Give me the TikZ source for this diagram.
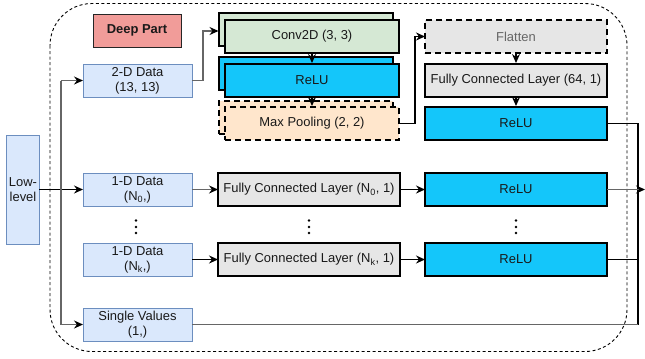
\documentclass[tikz,border=0pt]{standalone}
\usepackage{fontspec}
\setmainfont{Liberation Sans}
\usetikzlibrary{arrows.meta,calc}
\definecolor{bluefill}{HTML}{DAE8FC}
\definecolor{bluedraw}{HTML}{6C8EBF}
\definecolor{greenfill}{HTML}{D5E8D4}
\definecolor{cyanfill}{HTML}{14C6FA}
\definecolor{orangefill}{HTML}{FFE6CC}
\definecolor{grayfill}{HTML}{E6E6E6}
\definecolor{redfill}{HTML}{F19C99}
\definecolor{lineg}{HTML}{666666}
\begin{document}
\begin{tikzpicture}[x=1bp,y=-1bp,
  every node/.style={font=\fontsize{13}{15}\selectfont, text=black!90, align=center, inner sep=0pt, outer sep=0pt},
  databox/.style={draw=bluedraw, fill=bluefill, line width=1bp, minimum width=109bp, minimum height=33bp},
  layerbox/.style={draw=black, line width=2bp, minimum width=182bp, minimum height=33bp},
  stackbox/.style={draw=black, line width=2bp, minimum width=174bp, minimum height=33bp},
  garr/.style={draw=lineg, line width=1.5bp, -{Stealth[length=9bp,width=8bp,inset=3bp,color=black]}},
  barr/.style={draw=black, line width=1.5bp, -{Stealth[length=9bp,width=8bp,inset=3bp]}},
  gline/.style={draw=lineg, line width=1.3bp},
  bline/.style={draw=black, line width=1.3bp},
  dotmark/.style={fill=black, draw=none}
]
\useasboundingbox (0,0) rectangle (645,358);
\fill[white] (0,0) rectangle (645,358);
% outer dashed frame
\draw[black, line width=0.9bp, dash pattern=on 3bp off 2.5bp, rounded corners=42bp] (50,3.5) rectangle (627,351.5);

\node[draw=black!85, fill=redfill, line width=1bp, minimum width=88bp, minimum height=33bp, font=\fontsize{13}{15}\selectfont\bfseries] (deep) at (137,30.5) {Deep Part};

% data boxes
\node[databox] (d2) at (137.5,80.5) {2-D Data\\(13, 13)};
\node[databox] (d1a) at (137.5,189.5) {1-D Data\\(N\textsubscript{0},)};
\node[databox] (d1b) at (137.5,259.5) {1-D Data\\(N\textsubscript{k},)};
\node[databox] (sv) at (137.5,324.5) {Single Values\\(1,)};
\node[draw=bluedraw, fill=bluefill, line width=1bp, minimum width=32bp, minimum height=109bp] (low) at (23,189.5) {Low-\\level};

% stacks
\node[stackbox, fill=greenfill] (convb) at (305.5,29.5) {};
\node[stackbox, fill=greenfill] (convf) at (312,36.5) {Conv2D (3, 3)};
\node[stackbox, fill=cyanfill] (relub) at (305.5,73.5) {};
\node[stackbox, fill=cyanfill] (reluf) at (312,80.5) {ReLU};
\node[stackbox, fill=orangefill, dashed, dash pattern=on 6bp off 4bp] (mpb) at (305.5,117.5) {};
\node[stackbox, fill=orangefill, dashed, dash pattern=on 6bp off 4bp] (mpf) at (312,123.5) {Max Pooling (2, 2)};

% right column
\node[layerbox, fill=grayfill, dash pattern=on 6bp off 4bp, text=lineg] (flat) at (516,36.5) {Flatten};
\node[layerbox, fill=grayfill] (fc64) at (516,80.5) {Fully Connected Layer (64, 1)};
\node[layerbox, fill=cyanfill] (relu2) at (516,123.5) {ReLU};

\node[layerbox, fill=grayfill] (fca) at (309,189.5) {Fully Connected Layer (N\textsubscript{0}, 1)};
\node[layerbox, fill=grayfill] (fcb) at (309,259.5) {Fully Connected Layer (N\textsubscript{k}, 1)};
\node[layerbox, fill=cyanfill] (ra) at (516,189.5) {ReLU};
\node[layerbox, fill=cyanfill] (rb) at (516,259.5) {ReLU};

% dots
\foreach \xx in {136,309,516}{
  \foreach \yy in {220.5,227,233}{
    \fill[dotmark] (\xx,\yy) circle (1.3bp);
  }
}

% connectors
\coordinate (vx) at (61,0);
\coordinate (mx) at (638,0);
\coordinate (outend) at (645,189.5);
\draw[barr] (low.east) -- (d1a.west);
\draw[gline] (vx |- sv.west) -- (vx |- d2.west);
\draw[garr] (vx |- d2.west) -- (d2.west);
\draw[garr] (vx |- sv.west) -- (sv.west);
\draw[garr] (d2.east) -- ++(11,0) |- ($(convb.west)+(0,1.5)$);
\draw[barr] (convf.south) -- ($(reluf.north)+(0,-1)$);
\draw[barr] (reluf.south) -- ($(mpf.north)+(0,-1)$);
\draw[barr] (mpf.east) -- ++(16,0) |- (flat.west);
\draw[barr] (flat.south) -- ($(fc64.north)+(0,-1)$);
\draw[barr] (fc64.south) -- ($(relu2.north)+(0,-1)$);
\draw[garr] (d1a.east) -- (fca.west);
\draw[barr] (d1b.east) -- (fcb.west);
\draw[barr] (fca.east) -- (ra.west);
\draw[barr] (fcb.east) -- (rb.west);
\draw[bline] (relu2.east) -- (mx |- relu2.east) -- (mx |- sv.east);
\draw[gline] (sv.east) -- (mx |- sv.east);
\draw[bline] (rb.east) -- (mx |- rb.east);
\draw[garr] (ra.east) -- (outend);
\end{tikzpicture}
\end{document}
